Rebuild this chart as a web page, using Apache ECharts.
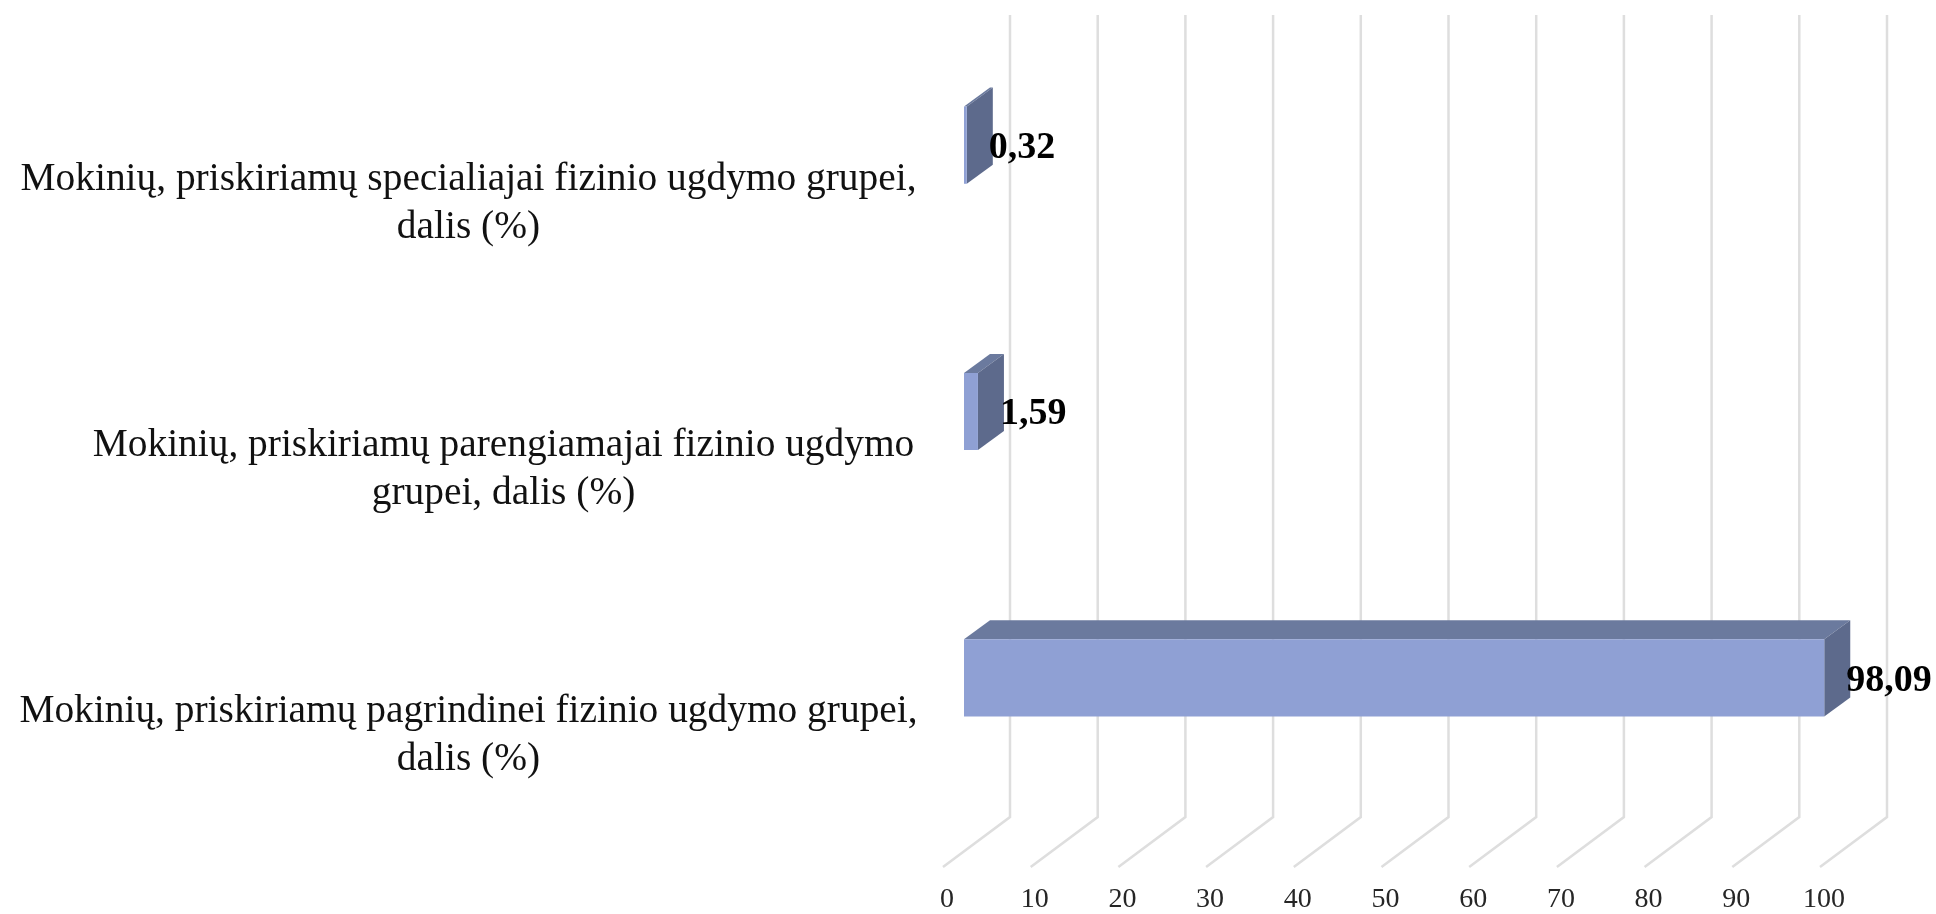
<!DOCTYPE html>
<html>
<head>
<meta charset="utf-8">
<script src="https://cdn.jsdelivr.net/npm/echarts@6/dist/echarts.min.js"></script>
<style>
html,body{margin:0;padding:0;background:#fff;}
#main{width:1936px;height:914px;}
</style>
</head>
<body>
<div id="main"></div>
<script>
// top first
var categories = [
    'Mokinių, priskiriamų specialiajai fizinio ugdymo grupei,\ndalis (%)',
    'Mokinių, priskiriamų parengiamajai fizinio ugdymo\ngrupei, dalis (%)',
    'Mokinių, priskiriamų pagrindinei fizinio ugdymo grupei,\ndalis (%)'
];
var values = [0.32, 1.59, 98.09];
var ticks = [0, 10, 20, 30, 40, 50, 60, 70, 80, 90, 100];

// 3d look, floor goes from the front plane to the back wall
var floorDx = 67, floorDy = 50, wallTop = 15;
var barShiftX = 21, barShiftY = -56, barDx = 26, barDy = -19;
var labelFont = '"Liberation Serif", "Times New Roman", serif';

function renderWall(params, api) {
    var rect = params.coordSys;
    var x = api.coord([api.value(0), 0])[0];
    var y = rect.y + rect.height;
    return {
        type: 'polyline',
        shape: {points: [[x, y], [x + floorDx, y - floorDy], [x + floorDx, wallTop]]},
        style: {fill: null, stroke: '#dedede', lineWidth: 2.5}
    };
}

function renderBar(params, api) {
    var start = api.coord([0, api.value(1)]);
    var end = api.coord([api.value(0), api.value(1)]);
    var h = api.size([0, 1])[1] * 0.29;
    var x0 = start[0] + barShiftX;
    var x1 = end[0] + barShiftX;
    var top = start[1] + barShiftY - h / 2;
    var bottom = top + h;
    return {
        type: 'group',
        children: [
            {type: 'polygon', shape: {points: [[x0, top], [x1, top], [x1 + barDx, top + barDy], [x0 + barDx, top + barDy]]}, style: {fill: '#6b7a9e'}},
            {type: 'polygon', shape: {points: [[x1, top], [x1 + barDx, top + barDy], [x1 + barDx, bottom + barDy], [x1, bottom]]}, style: {fill: '#5d6a8c'}},
            {type: 'rect', shape: {x: x0, y: top, width: x1 - x0, height: h}, style: {fill: '#8fa0d4'}},
            {
                type: 'text',
                z2: 10,
                style: {
                    x: x1 + 22,
                    y: (top + bottom) / 2 + 3,
                    text: api.value(0).toFixed(2).replace('.', ','),
                    font: 'bold 38px ' + labelFont,
                    fill: '#000',
                    align: 'left',
                    verticalAlign: 'middle'
                }
            }
        ]
    };
}

var myChart = echarts.init(document.getElementById('main'));

var option = {
    animation: false,
    backgroundColor: '#fff',
    grid: {left: 943, top: 68, width: 877, height: 799},
    xAxis: {
        type: 'value',
        min: 0,
        max: 100,
        interval: 10,
        axisLine: {show: false},
        axisTick: {show: false},
        splitLine: {show: false},
        axisLabel: {
            color: '#262626',
            fontFamily: labelFont,
            fontSize: 28,
            margin: 19,
            padding: [0, 0, 0, 8]
        }
    },
    yAxis: {
        type: 'category',
        inverse: true,
        data: categories,
        axisLine: {show: false},
        axisTick: {show: false},
        splitLine: {show: false},
        axisLabel: {
            margin: 27,
            align: 'right',
            padding: [4, 0, 0, 0],
            formatter: function (value, i) {
                var lines = value.split('\n');
                var key = i === 1 ? 'mid' : 'wide';
                return '{' + key + '|' + lines[0] + '}\n{' + key + '|' + lines[1] + '}';
            },
            rich: {
                wide: {width: 895, align: 'center', fontFamily: labelFont, fontSize: 39.4, lineHeight: 48, color: '#111'},
                mid: {width: 825, align: 'center', fontFamily: labelFont, fontSize: 39.4, lineHeight: 48, color: '#111'}
            }
        }
    },
    series: [
        {
            type: 'custom',
            renderItem: renderWall,
            silent: true,
            clip: false,
            encode: {x: 0},
            data: ticks.map(function (t) { return [t]; }),
            z: 1
        },
        {
            type: 'custom',
            renderItem: renderBar,
            silent: true,
            clip: false,
            encode: {x: 0, y: 1},
            data: values.map(function (v, i) { return [v, i]; }),
            z: 2
        }
    ]
};

myChart.setOption(option);
</script>
</body>
</html>
